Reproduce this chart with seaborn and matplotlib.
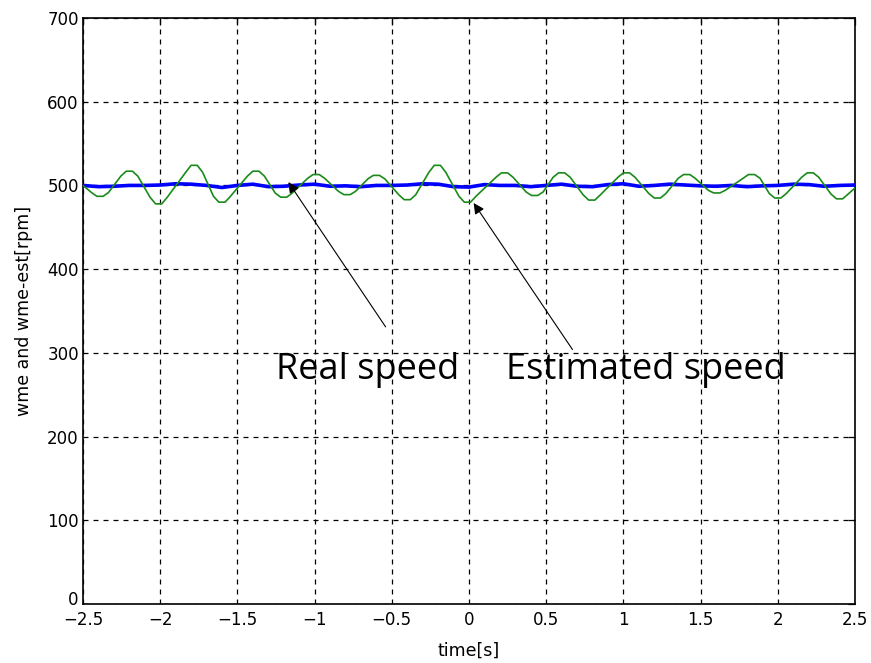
import matplotlib
matplotlib.use("Agg")
import matplotlib.pyplot as plt
from matplotlib.transforms import ScaledTranslation
import seaborn as sns
import pandas as pd

# Real rotor speed (wme), sampled every 0.1 s
real_t = [-2.5, -2.4, -2.3, -2.2, -2.1, -2.0, -1.9, -1.8, -1.7, -1.6, -1.5,
          -1.4, -1.3, -1.2, -1.1, -1.0, -0.9, -0.8, -0.7, -0.6, -0.5,
          -0.4, -0.3, -0.2, -0.1, 0.0, 0.1, 0.2, 0.3, 0.4, 0.5,
          0.6, 0.7, 0.8, 0.9, 1.0, 1.1, 1.2, 1.3, 1.4, 1.5,
          1.6, 1.7, 1.8, 1.9, 2.0, 2.1, 2.2, 2.3, 2.4, 2.5]
real_v = [500, 498.5, 499, 500, 500, 500.5, 502, 501.5, 500, 497.5, 500,
          501.5, 498.5, 499, 500.5, 501.5, 499, 499.5, 498.5, 500, 500,
          500.5, 502, 501.5, 498.5, 498, 501, 500, 500, 498.5, 500,
          501.5, 499, 498.5, 501, 502, 499, 500, 501.5, 500.5, 499.5,
          499, 500, 498.5, 499.5, 500, 501.5, 501, 499, 500, 500.5]

# Estimated speed (wme-est): samples around each crest and trough
est_t = [-2.5,
         -2.445, -2.41, -2.37, -2.335,
         -2.255, -2.22, -2.18, -2.145,
         -2.065, -2.03, -1.99, -1.955,
         -1.835, -1.80, -1.76, -1.725,
         -1.655, -1.62, -1.58, -1.545,
         -1.435, -1.40, -1.36, -1.325,
         -1.255, -1.22, -1.18, -1.145,
         -1.045, -1.01, -0.97, -0.935,
         -0.845, -0.81, -0.77, -0.735,
         -0.655, -0.62, -0.58, -0.545,
         -0.455, -0.42, -0.38, -0.345,
         -0.26, -0.225, -0.185, -0.15,
         -0.065, -0.03, 0.01, 0.045,
         0.175, 0.21, 0.25, 0.285,
         0.37, 0.405, 0.445, 0.48,
         0.545, 0.58, 0.62, 0.655,
         0.74, 0.775, 0.815, 0.85,
         0.965, 1.0, 1.04, 1.075,
         1.165, 1.2, 1.24, 1.275,
         1.355, 1.39, 1.43, 1.465,
         1.55, 1.585, 1.625, 1.66,
         1.775, 1.81, 1.85, 1.885,
         1.945, 1.98, 2.02, 2.055,
         2.155, 2.19, 2.23, 2.265,
         2.345, 2.38, 2.42, 2.455,
         2.5]
est_v = [500,
         491.5, 487, 487, 491.5,
         511.1, 517, 517, 511.1,
         485.7, 478, 478, 485.7,
         515.6, 524, 524, 515.6,
         487, 480, 480, 487,
         511.1, 517, 517, 511.1,
         490.9, 486, 486, 490.9,
         508.5, 513, 513, 508.5,
         492.9, 489, 489, 492.9,
         507.8, 512, 512, 507.8,
         488.9, 483, 483, 488.9,
         515.6, 524, 524, 515.6,
         487, 480, 480, 487,
         509.8, 515, 515, 509.8,
         492.2, 488, 488, 492.2,
         509.8, 515, 515, 509.8,
         488.6, 482.5, 482.5, 488.6,
         509.8, 515, 515, 509.8,
         490.3, 485, 485, 490.3,
         508.5, 513, 513, 508.5,
         494.2, 491, 491, 494.2,
         508.5, 513, 513, 508.5,
         490.3, 485, 485, 490.3,
         509.8, 515, 515, 509.8,
         489.6, 484, 484, 489.6,
         497]

x_ticks = [-2.5, -2, -1.5, -1, -0.5, 0, 0.5, 1, 1.5, 2, 2.5]
x_tick_labels = ["\u22122.5", "\u22122", "\u22121.5", "\u22121", "\u22120.5",
                 "0", "0.5", "1", "1.5", "2", "2.5"]
y_ticks = [0, 100, 200, 300, 400, 500, 600, 700]

real_df = pd.DataFrame({"t": real_t, "v": real_v})
est_df = pd.DataFrame({"t": est_t, "v": est_v})

sns.set_style("white")
plt.rcParams["font.family"] = ["DejaVu Sans"]
plt.rcParams["text.color"] = "black"
plt.rcParams["axes.labelcolor"] = "black"

fig = plt.figure(figsize=(8.71, 6.63), dpi=100)
ax = fig.add_axes([83 / 871, 1 - 604 / 663, (855 - 83) / 871, (604 - 18) / 663])

sns.lineplot(data=real_df, x="t", y="v", ax=ax, color="#0000ff",
             linewidth=2.6, zorder=3)
sns.lineplot(data=est_df, x="t", y="v", ax=ax, color="#1a8a1a",
             linewidth=1.2, zorder=4)

ax.set_xlim(-2.5, 2.5)
ax.set_ylim(0, 700)
ax.set_xticks(x_ticks)
ax.set_xticklabels(x_tick_labels)
ax.set_yticks(y_ticks)
ax.grid(True, color="black", linestyle=(0, (4, 4)), linewidth=0.9)
ax.tick_params(direction="in", length=5, width=0.9, top=True, right=True,
               labelsize=12, colors="black", pad=3)
ax.tick_params(axis="x", pad=5)
for s in ax.spines.values():
    s.set_visible(True)
    s.set_color("black")
    s.set_linewidth(1.2)

# lift the "0" label on the y axis clear of the first x label
zero_lbl = ax.get_yticklabels()[0]
zero_lbl.set_transform(zero_lbl.get_transform()
                       + ScaledTranslation(0, 4 / 72, fig.dpi_scale_trans))

ax.set_xlabel("time[s]", fontsize=12.5, labelpad=9)
ax.set_ylabel("wme and wme-est[rpm]", fontsize=12.5, labelpad=10)

arrow = dict(arrowstyle="-|>", color="black", lw=0.8, mutation_scale=16,
             shrinkA=0, shrinkB=0)
ax.annotate("", xy=(-1.17, 504), xytext=(-0.54, 331), arrowprops=arrow, zorder=6)
ax.annotate("", xy=(0.03, 479), xytext=(0.67, 304), arrowprops=arrow, zorder=6)

label_font = ["Open Sans", "DejaVu Sans"]
ax.text(-1.25, 269, "Real speed", fontsize=26, family=label_font,
        ha="left", va="baseline", zorder=7)
ax.text(0.24, 269, "Estimated speed", fontsize=26, family=label_font,
        ha="left", va="baseline", zorder=7)

fig.savefig("out.png", dpi=100)
